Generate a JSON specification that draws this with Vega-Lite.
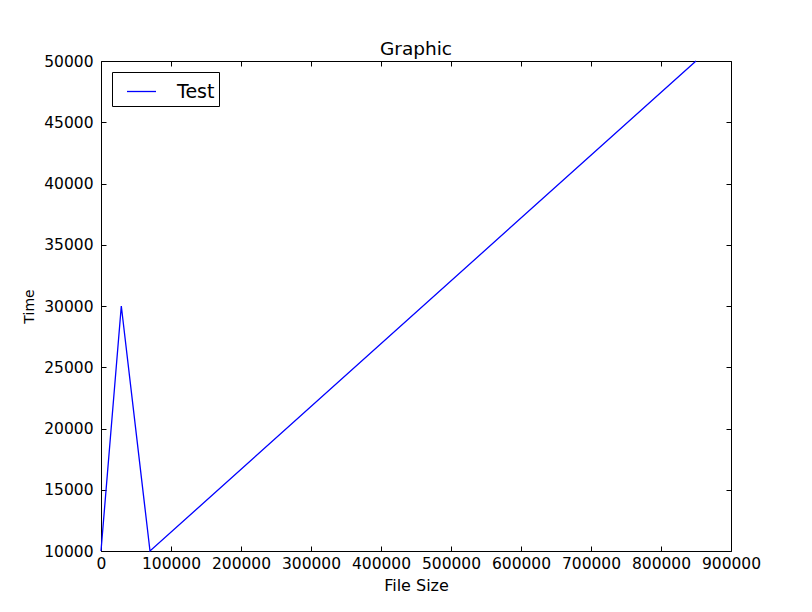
{
  "$schema": "https://vega.github.io/schema/vega-lite/v6.json",
  "width": 630,
  "height": 490,
  "autosize": {"type": "none"},
  "padding": {"left": 101, "top": 61, "right": 81, "bottom": 61},
  "background": "white",
  "title": {"text": "Graphic", "fontSize": 18.5, "fontWeight": "normal", "font": "DejaVu Sans", "color": "black", "offset": -4, "anchor": "middle"},
  "data": {"values": [
    {"size": 0, "time": 10000, "series": "Test"},
    {"size": 29000, "time": 30000, "series": "Test"},
    {"size": 70000, "time": 10000, "series": "Test"},
    {"size": 850000, "time": 50000, "series": "Test"}
  ]},
  "config": {
    "view": {"stroke": null},
    "axis": {"grid": false, "domainColor": "black", "tickColor": "black", "labelColor": "black", "titleColor": "black", "labelFont": "DejaVu Sans", "titleFont": "DejaVu Sans", "labelFontSize": 15.5, "titleFontWeight": "normal", "tickSize": -5, "labelFlush": false, "labelOverlap": false},
    "legend": {"labelFont": "DejaVu Sans", "labelColor": "black"}
  },
  "layer": [
    {
      "mark": {"type": "line", "strokeWidth": 1.3},
      "encoding": {
        "x": {"field": "size", "type": "quantitative", "scale": {"domain": [0, 900000], "nice": false, "zero": false},
          "axis": {"orient": "bottom", "values": [0,100000,200000,300000,400000,500000,600000,700000,800000,900000], "format": "d", "title": "File Size", "titleFontSize": 16, "labelPadding": 10, "titlePadding": 6}},
        "y": {"field": "time", "type": "quantitative", "scale": {"domain": [10000, 50000], "nice": false, "zero": false},
          "axis": {"orient": "left", "values": [10000,15000,20000,25000,30000,35000,40000,45000,50000], "format": "d", "title": "Time", "titleFontSize": 14, "labelPadding": 13, "titlePadding": 7}},
        "color": {"field": "series", "type": "nominal", "scale": {"range": ["#0000ff"]},
          "legend": {"title": null, "orient": "top-left", "offset": 11, "symbolType": "stroke", "symbolSize": 841, "symbolStrokeWidth": 1.3, "labelFontSize": 19, "labelOffset": 20, "padding": 4, "strokeColor": "black", "fillColor": "white", "symbolOffset": 10, "labelExpr": "datum.label + '\u00a0'"}}
      }
    },
    {
      "mark": {"type": "line", "strokeOpacity": 0},
      "encoding": {
        "x": {"field": "size", "type": "quantitative", "scale": {"domain": [0, 900000], "nice": false, "zero": false},
          "axis": {"orient": "top", "values": [0,100000,200000,300000,400000,500000,600000,700000,800000,900000], "labels": false, "title": null}},
        "y": {"field": "time", "type": "quantitative", "scale": {"domain": [10000, 50000], "nice": false, "zero": false},
          "axis": {"orient": "right", "values": [10000,15000,20000,25000,30000,35000,40000,45000,50000], "labels": false, "title": null}}
      }
    }
  ],
  "resolve": {"axis": {"x": "independent", "y": "independent"}}
}
